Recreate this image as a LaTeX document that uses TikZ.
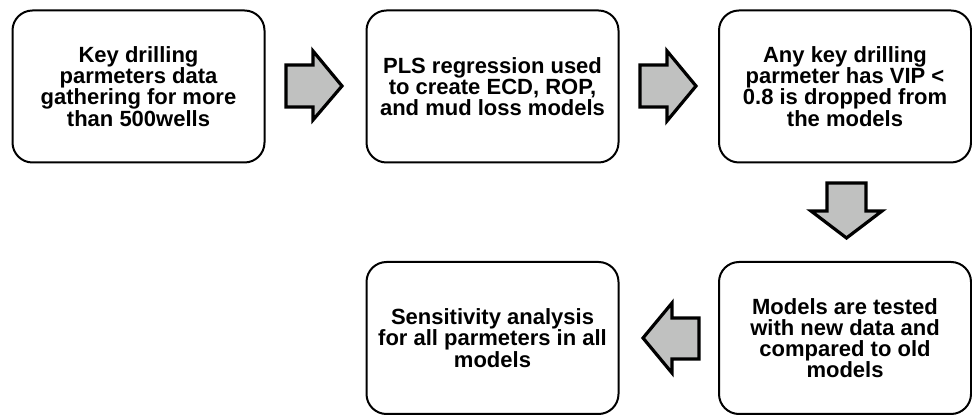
\documentclass[tikz,border=0pt]{standalone}
\usepackage{fontspec}
\setmainfont{Liberation Sans}
\usepackage{xcolor}
\definecolor{arrowgray}{HTML}{C0C1C0}
\usepackage{tikz}
\usetikzlibrary{positioning}

\tikzset{
  stepbox/.style={draw=black, line width=1pt, rounded corners=10pt, fill=white,
    minimum width=126pt, minimum height=76pt, align=center,
    font=\fontsize{11}{10.6}\selectfont\bfseries},
  blockarrow/.style={draw=black, fill=arrowgray, line width=1.6pt, line join=miter}
}

\begin{document}
\begin{tikzpicture}[x=0.5pt,y=-0.5pt]
  \useasboundingbox (0,0) rectangle (972,415);
  % process boxes
  \node[stepbox] (gather) at (138.5,86.5) {Key drilling\\parmeters data\\gathering for more\\than 500wells};
  \node[stepbox] (pls) at (492.5,86.5) {PLS regression used\\to create ECD, ROP,\\and mud loss models};
  \node[stepbox] (vip) at (845,86.5) {Any key drilling\\parmeter has VIP <\\0.8 is dropped from\\the models};
  \node[stepbox] (test) at (845,338) {Models are tested\\with new data and\\compared to old\\models};
  \node[stepbox] (sens) at (492.5,338) {Sensitivity analysis\\for all parmeters in all\\models};
  % block arrows
  \draw[blockarrow] (286,65) -- (313,65) -- (313,51) -- (342,86) -- (313,120) -- (313,107) -- (286,107) -- cycle;
  \draw[blockarrow] (640,65) -- (667,65) -- (667,51) -- (696,86) -- (667,121) -- (667,107) -- (640,107) -- cycle;
  \draw[blockarrow] (827,183) -- (866,183) -- (866,211) -- (882,211) -- (846.5,238) -- (811,211) -- (827,211) -- cycle;
  \draw[blockarrow] (699,318) -- (672,318) -- (672,303) -- (643,338) -- (672,373) -- (672,359) -- (699,359) -- cycle;
\end{tikzpicture}
\end{document}
